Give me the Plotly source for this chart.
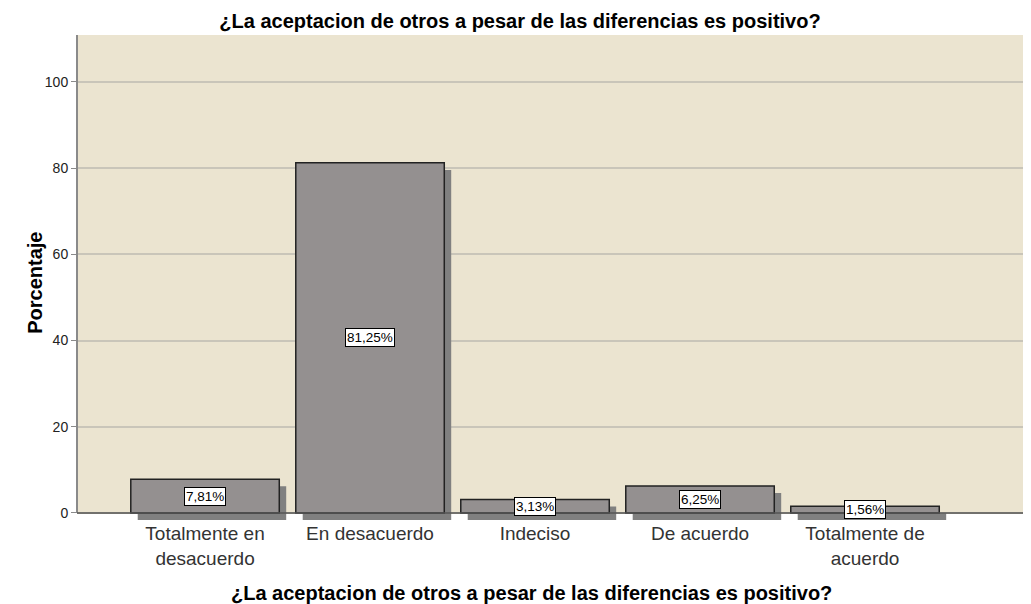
import plotly.graph_objects as go

categories = ["Totalmente en<br>desacuerdo", "En desacuerdo", "Indeciso", "De acuerdo", "Totalmente de<br>acuerdo"]
percentages = [7.81, 81.25, 3.13, 6.25, 1.56]
value_labels = ["7,81%", "81,25%", "3,13%", "6,25%", "1,56%"]
title_text = "¿La aceptacion de otros a pesar de las diferencias es positivo?"

FONT = "Liberation Sans, Arial, sans-serif"
BEIGE = "#EBE4D0"
BAR = "#949090"
SHADOW = "#808080"
Y_MIN, Y_MAX = -1.65, 110.9
SHADOW_DX = 0.042

positions = list(range(len(categories)))

fig = go.Figure()
# drop shadow behind every bar
fig.add_trace(go.Bar(
    x=[p + SHADOW_DX for p in positions],
    y=percentages,
    base=Y_MIN,
    width=0.9,
    marker=dict(color=SHADOW, line=dict(width=0)),
    hoverinfo="skip",
    showlegend=False,
))
fig.add_trace(go.Bar(
    x=positions,
    y=percentages,
    width=0.9,
    marker=dict(color=BAR, line=dict(color="#222222", width=1.5)),
    showlegend=False,
))

for p, v, lab in zip(positions, percentages, value_labels):
    fig.add_annotation(
        x=p, y=v / 2, text=lab, showarrow=False,
        font=dict(family=FONT, size=13.5, color="#000000"),
        bgcolor="white", bordercolor="#000000", borderwidth=1, borderpad=1,
    )

# beige plot area above zero, axis lines
fig.add_shape(type="rect", xref="paper", yref="y", x0=0, x1=1, y0=0, y1=Y_MAX,
              fillcolor=BEIGE, line=dict(width=0), layer="below")
fig.add_shape(type="line", xref="paper", yref="y", x0=0, x1=0, y0=0, y1=Y_MAX,
              line=dict(color="#8a8a8a", width=2))
fig.add_shape(type="line", xref="paper", yref="y", x0=0, x1=1, y0=0, y1=0,
              line=dict(color="#555555", width=1.5))

fig.add_annotation(
    xref="paper", yref="paper", x=0.476, y=-0.15, text="<b>" + title_text + "</b>",
    showarrow=False, font=dict(family=FONT, size=20, color="#000000"), yanchor="middle",
)
fig.add_annotation(
    xref="paper", yref="paper", x=-0.0577, y=0.489, text="<b>Porcentaje</b>", textangle=-90,
    showarrow=False, font=dict(family=FONT, size=20, color="#000000"),
)

fig.update_layout(
    width=1023, height=596,
    margin=dict(l=69, r=0, t=27, b=84),
    paper_bgcolor="white", plot_bgcolor="white",
    title=dict(text="<b>" + title_text + "</b>", x=0.5005, xanchor="center",
               y=1 - 13 / 596, yanchor="middle",
               font=dict(family=FONT, size=20, color="#000000")),
    barmode="overlay",
    xaxis=dict(
        range=[-0.776, 5.006], tickvals=positions, ticktext=categories,
        showgrid=False, zeroline=False, showline=False, ticks="",
        tickfont=dict(family=FONT, size=19, color="#333333"),
    ),
    yaxis=dict(
        range=[Y_MIN, Y_MAX], tickvals=[0, 20, 40, 60, 80, 100],
        showgrid=True, gridcolor="#C9C5B9", gridwidth=1.5, zeroline=False, showline=False,
        ticks="outside", ticklen=5, tickcolor="#8a8a8a",
        tickfont=dict(family=FONT, size=14, color="#222222"),
    ),
)

fig.write_html("out.html")
